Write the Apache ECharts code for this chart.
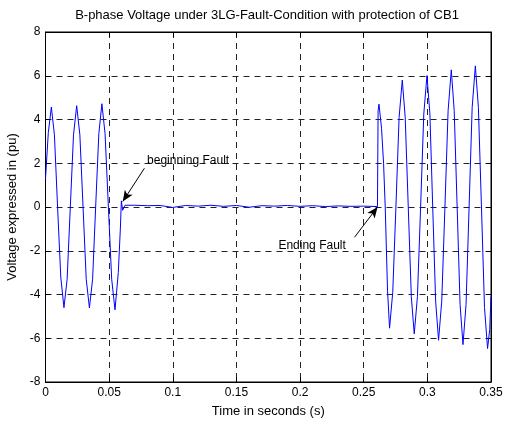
<!doctype html>
<html>
<head>
<meta charset="utf-8">
<title>B-phase Voltage</title>
<script src="https://cdn.jsdelivr.net/npm/echarts@6/dist/echarts.min.js"></script>
<style>
  html,body{margin:0;padding:0;background:#fff;}
  #chart{width:505px;height:422px;}
</style>
</head>
<body>
<div id="chart"></div>
<script>
// time (s) and B-phase voltage (pu)
var timeS = [
  0, 0.0022, 0.0046, 0.0070, 0.0095, 0.0120, 0.0145, 0.0170, 0.0195, 0.0220,
  0.0245, 0.0270, 0.0295, 0.0320, 0.0345, 0.0370, 0.0394, 0.0419, 0.0443, 0.0468,
  0.0494, 0.0520, 0.0546, 0.0572, 0.0588, 0.0596, 0.0606, 0.0625,
  0.07, 0.08, 0.09, 0.10, 0.11, 0.12, 0.13, 0.14, 0.15, 0.16,
  0.17, 0.18, 0.19, 0.20, 0.21, 0.22, 0.23, 0.24, 0.25, 0.2608,
  0.2613, 0.2620, 0.2640, 0.2656, 0.2669, 0.2687, 0.2703, 0.2728, 0.2753, 0.2778,
  0.2803, 0.2826, 0.2850, 0.2874, 0.2897, 0.2922, 0.2947, 0.2972, 0.2997, 0.3020,
  0.3042, 0.3065, 0.3088, 0.3113, 0.3138, 0.3163, 0.3188, 0.3211, 0.3234, 0.3257,
  0.3280, 0.3304, 0.3328, 0.3352, 0.3377, 0.3401, 0.3425, 0.3449, 0.3473, 0.3490,
  0.35
];
var voltPu = [
  1.3, 3.4, 4.57, 3.3, 0.0, -3.2, -4.6, -3.3, 0.0, 3.3,
  4.63, 3.3, 0.0, -3.3, -4.61, -3.3, 0.0, 3.35, 4.72, 3.35,
  0.0, -3.3, -4.7, -3.0, -1.0, 0.28, -0.15, 0.08,
  0.08, 0.06, 0.07, -0.02, 0.07, 0.04, 0.08, 0.03, 0.07, -0.01,
  0.06, 0.04, 0.07, 0.03, 0.06, 0.02, 0.05, 0.03, 0.04, 0.02,
  4.4, 4.7, 3.6, 2.0, 0.0, -3.8, -5.54, -3.9, 0.0, 4.1,
  5.8, 4.1, 0.0, -4.1, -5.8, -4.1, 0.0, 4.25, 6.01, 4.25,
  0.0, -4.3, -6.09, -4.3, 0.0, 4.4, 6.27, 4.4, 0.0, -4.45,
  -6.29, -4.45, 0.0, 4.55, 6.45, 4.55, 0.0, -4.6, -6.47, -5.6,
  -4.1
];

// annotations: text anchor (left, middle) and arrow tail -> tip, in data units
var noteText = ['beginning Fault', 'Ending Fault'];
var noteAt = [[0.0798, 2.1], [0.183, -1.76]];
var arrowFrom = [[0.0777, 1.77], [0.2428, -1.38]];
var arrowTo = [[0.0607, 0.25], [0.2609, 0.0]];

var font = 'Liberation Sans, Arial, Helvetica, sans-serif';

var chart = echarts.init(document.getElementById('chart'));

var arrows = [];
for (var i = 0; i < arrowFrom.length; i++) {
  arrows.push([
    {coord: arrowFrom[i], symbol: 'none'},
    {coord: arrowTo[i], symbol: 'arrow', symbolSize: [7, 11]}
  ]);
}

var tickStyle = {show: true, inside: true, length: 5, lineStyle: {color: '#000'}};
var gridLine = {show: true, lineStyle: {color: '#222', type: [6, 5], width: 1}};
var labelStyle = {fontFamily: font, fontSize: 12, color: '#000', margin: 5};
var nameStyle = {fontFamily: font, fontSize: 13, color: '#000'};

var option = {
  backgroundColor: '#fff',
  animation: false,
  title: {
    text: 'B-phase Voltage under 3LG-Fault-Condition with protection of CB1',
    left: 262, top: 4, textAlign: 'center',
    textStyle: {fontFamily: font, fontSize: 13, fontWeight: 'normal', color: '#000'}
  },
  grid: {
    left: 45.5, right: 14, top: 32, bottom: 40,
    outerBoundsMode: 'none', containLabel: false,
    show: true, borderColor: '#000', borderWidth: 1
  },
  xAxis: [{
    type: 'value', min: 0, max: 0.35, interval: 0.05,
    name: 'Time in seconds (s)', nameLocation: 'middle', nameGap: 23,
    nameTextStyle: nameStyle,
    axisLine: {show: true, onZero: false, lineStyle: {color: '#000'}},
    axisTick: tickStyle,
    axisLabel: labelStyle,
    splitLine: gridLine
  }, {
    type: 'value', position: 'top', min: 0, max: 0.35, interval: 0.05,
    axisLine: {show: true, onZero: false, lineStyle: {color: '#000'}},
    axisTick: tickStyle, axisLabel: {show: false}, splitLine: {show: false}
  }],
  yAxis: [{
    type: 'value', min: -8, max: 8, interval: 2,
    name: 'Voltage expressed in (pu)', nameLocation: 'middle', nameGap: 25,
    nameTextStyle: nameStyle,
    axisLine: {show: true, onZero: false, lineStyle: {color: '#000'}},
    axisTick: tickStyle,
    axisLabel: labelStyle,
    splitLine: gridLine
  }, {
    type: 'value', position: 'right', min: -8, max: 8, interval: 2,
    axisLine: {show: true, onZero: false, lineStyle: {color: '#000'}},
    axisTick: tickStyle, axisLabel: {show: false}, splitLine: {show: false}
  }],
  series: [{
    type: 'line',
    data: timeS.map(function (t, i) { return [t, voltPu[i]]; }),
    showSymbol: false,
    lineStyle: {color: '#0000ff', width: 1},
    markLine: {
      silent: true,
      label: {show: false},
      lineStyle: {color: '#000', width: 1, type: 'solid'},
      data: arrows
    }
  }]
};
chart.setOption(option);

// annotation texts placed through the axes
var texts = [];
for (var j = 0; j < noteText.length; j++) {
  var p = chart.convertToPixel({gridIndex: 0}, noteAt[j]);
  texts.push({
    type: 'text', x: p[0], y: p[1],
    style: {text: noteText[j], fill: '#000', font: '12px ' + font, textVerticalAlign: 'middle'}
  });
}
chart.setOption({graphic: texts});
</script>
</body>
</html>
